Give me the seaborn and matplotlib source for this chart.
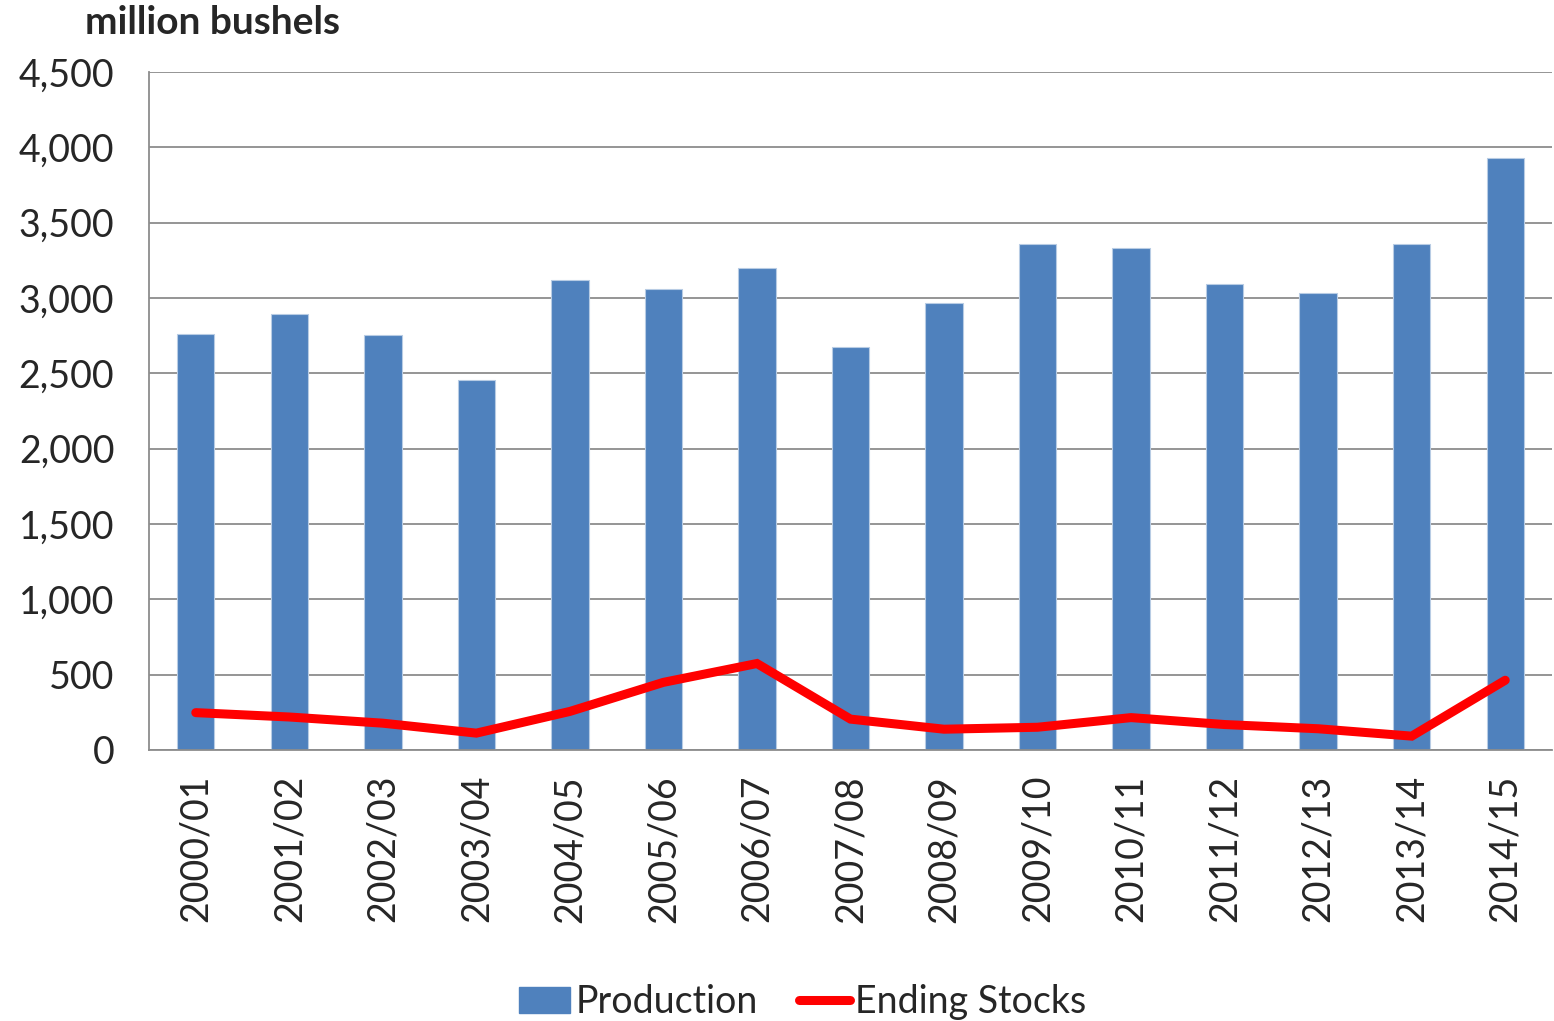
import numpy as np
import matplotlib
matplotlib.use("Agg")
import matplotlib.pyplot as plt
import seaborn as sns
from matplotlib.patches import Patch
from matplotlib.lines import Line2D
from matplotlib.ticker import FuncFormatter

# ---- data ----
seasons = ["2000/01", "2001/02", "2002/03", "2003/04", "2004/05", "2005/06",
           "2006/07", "2007/08", "2008/09", "2009/10", "2010/11", "2011/12",
           "2012/13", "2013/14", "2014/15"]
production = [2758, 2891, 2756, 2454, 3118, 3063, 3197, 2674, 2967,
              3359, 3329, 3094, 3034, 3358, 3927]
ending_stocks = [248, 219, 178, 112, 256, 449, 574, 205, 138,
                 151, 215, 169, 141, 92, 463]

BAR_COLOR  = "#4F81BD"
LINE_COLOR = "#FF0000"
GRID_COLOR = "#8C8C8C"
FONT       = "Lato"
TICK_SIZE  = 27

sns.set_theme(style="white")
plt.rcParams["font.family"] = [FONT, "DejaVu Sans"]

fig = plt.figure(figsize=(15.54, 10.21), dpi=100)
ax = fig.add_axes([149 / 1554, 1 - 750 / 1021, (1552 - 149) / 1554, (750 - 72) / 1021])

sns.barplot(x=seasons, y=production, color=BAR_COLOR, width=0.4,
            edgecolor="#B8CCE4", linewidth=0.8, saturation=1, ax=ax)
sns.lineplot(x=np.arange(len(seasons)), y=ending_stocks, color=LINE_COLOR,
             linewidth=6.5, ax=ax, solid_capstyle="round", solid_joinstyle="miter")

ax.set_ylim(0, 4500)
ax.set_xlim(-0.5, len(seasons) - 0.5)
ax.set_yticks(np.arange(0, 4501, 500))
ax.yaxis.set_major_formatter(FuncFormatter(lambda v, p: f"{int(v):,}"))
ax.grid(axis="y", color=GRID_COLOR, linewidth=1.3)
ax.set_axisbelow(True)

for side in ["top", "right"]:
    ax.spines[side].set_visible(False)
for side in ["left", "bottom"]:
    ax.spines[side].set_color(GRID_COLOR)
    ax.spines[side].set_linewidth(1.3)

# category boundary ticks on x, labels centered
ax.set_xticks(np.arange(-0.5, len(seasons) + 0.5, 1), minor=True)
ax.tick_params(axis="x", which="minor", length=12, width=1.3, color=GRID_COLOR, direction="out")
ax.tick_params(axis="x", which="major", length=0, pad=18, labelsize=TICK_SIZE, rotation=90)
ax.tick_params(axis="y", length=13, width=1.3, color=GRID_COLOR, direction="out",
               labelsize=TICK_SIZE, pad=12)
ax.set_xlabel("")
ax.set_ylabel("")

fig.text(85 / 1554, 1 - 22 / 1021, "million bushels", fontsize=28, fontweight="bold",
         ha="left", va="center")

handles = [Patch(facecolor=BAR_COLOR, edgecolor=BAR_COLOR),
           Line2D([0], [0], color=LINE_COLOR, linewidth=6.5, solid_capstyle="round")]
fig.legend(handles, ["Production", "Ending Stocks"], loc="center",
           bbox_to_anchor=(803 / 1554, 1 - 1002 / 1021), ncol=2, frameon=False,
           fontsize=TICK_SIZE, handlelength=1.35, handletextpad=0.15, columnspacing=1.1)

fig.savefig("out.png", dpi=100)
